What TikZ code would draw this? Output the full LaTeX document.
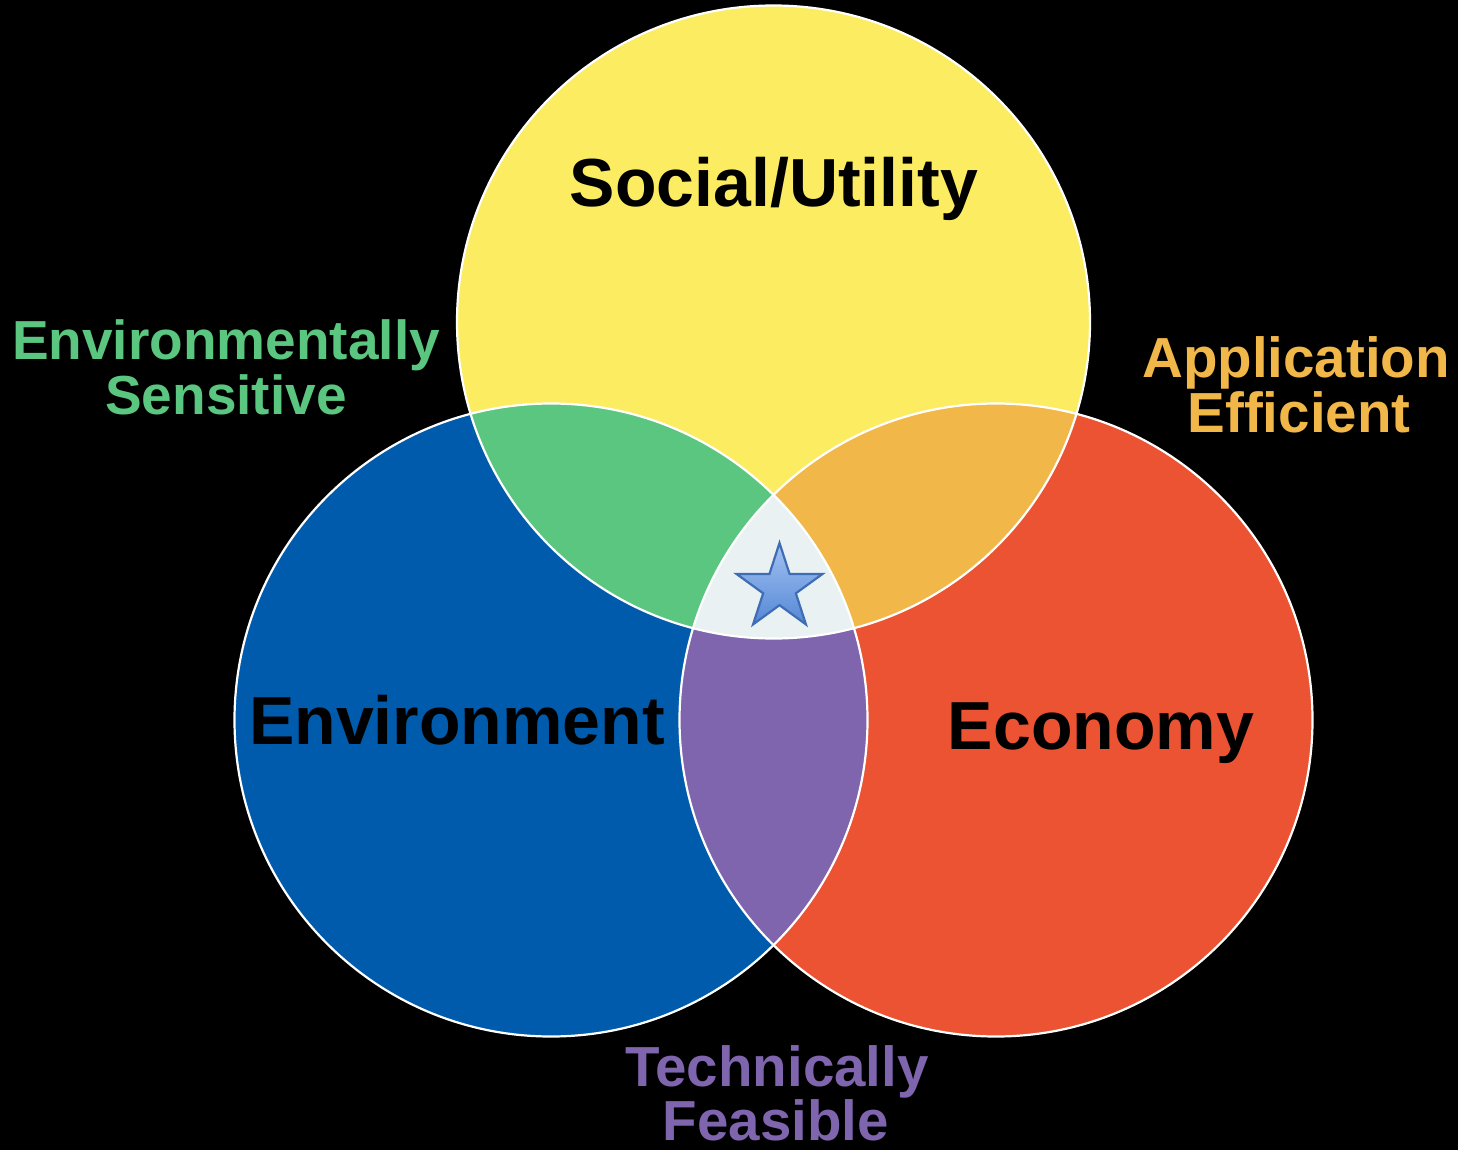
\documentclass[tikz,border=0pt]{standalone}
\usepackage{fontspec}
\setmainfont{Liberation Sans}
\usetikzlibrary{shapes.geometric}

% palette
\definecolor{socialY}{HTML}{FBEC62}
\definecolor{envB}{HTML}{005BAC}
\definecolor{ecoR}{HTML}{EB5333}
\definecolor{mixG}{HTML}{5AC680}
\definecolor{mixO}{HTML}{F2B749}
\definecolor{mixP}{HTML}{7F64AE}
\definecolor{core}{HTML}{E9F1F3}
\definecolor{starTop}{HTML}{A3C3F2}
\definecolor{starBot}{HTML}{5587D6}
\definecolor{starEdge}{HTML}{3E6DB5}

\begin{document}
\begin{tikzpicture}[x=1pt,y=-1pt,
  bigname/.style={font=\bfseries\fontsize{68}{70}\selectfont, text=black, anchor=base, inner sep=0pt},
  sidename/.style={font=\bfseries\fontsize{55}{56}\selectfont, anchor=base, inner sep=0pt},
  widename/.style={sidename, font=\bfseries\fontsize{56.5}{58}\selectfont},
  rim/.style={draw=white, line width=2.2pt}]

% canvas
\fill[black] (0,0) rectangle (1458,1150);
\useasboundingbox (0,0) rectangle (1458,1150);

\def\R{316.5pt}
\coordinate (cS) at (773.5,322);
\coordinate (cE) at (551,720);
\coordinate (cC) at (996,720);

% the three sets
\fill[socialY] (cS) circle[radius=\R];
\fill[envB] (cE) circle[radius=\R];
\fill[ecoR] (cC) circle[radius=\R];

% pairwise overlaps with the social set
\begin{scope}
  \clip (cS) circle[radius=\R];
  \fill[mixG] (cE) circle[radius=\R];
  \fill[mixO] (cC) circle[radius=\R];
\end{scope}

% environment/economy overlap and the common core
\begin{scope}
  \clip (cE) circle[radius=\R];
  \fill[mixP] (cC) circle[radius=\R];
  \clip (cS) circle[radius=\R];
  \fill[core] (cC) circle[radius=\R];
\end{scope}

% white rims
\draw[rim] (cS) circle[radius=\R];
\draw[rim] (cE) circle[radius=\R];
\draw[rim] (cC) circle[radius=\R];

% star in the common core
\node[star, star points=5, star point ratio=2.618, minimum size=90pt, inner sep=0pt,
      draw=starEdge, line width=2.2pt, top color=starTop, bottom color=starBot]
      (goal) at (779.5,588) {};

% set names
\node[bigname] (social) at (774,207) {Social/Utility};
\node[bigname] (environment) at (457,744) {Environment};
\node[bigname] (economy) at (1101,749) {Economy};

% overlap names
\node[sidename, text=mixG] (envsens1) at (226,359) {Environmentally};
\node[sidename, text=mixG] (envsens2) at (226,414) {Sensitive};
\node[widename, text=mixO] (appeff1) at (1296,377) {Application};
\node[widename, text=mixO] (appeff2) at (1299,432) {Efficient};
\node[widename, text=mixP] (techfeas1) at (777,1086) {Technically};
\node[widename, text=mixP] (techfeas2) at (776,1140) {Feasible};
\end{tikzpicture}
\end{document}
